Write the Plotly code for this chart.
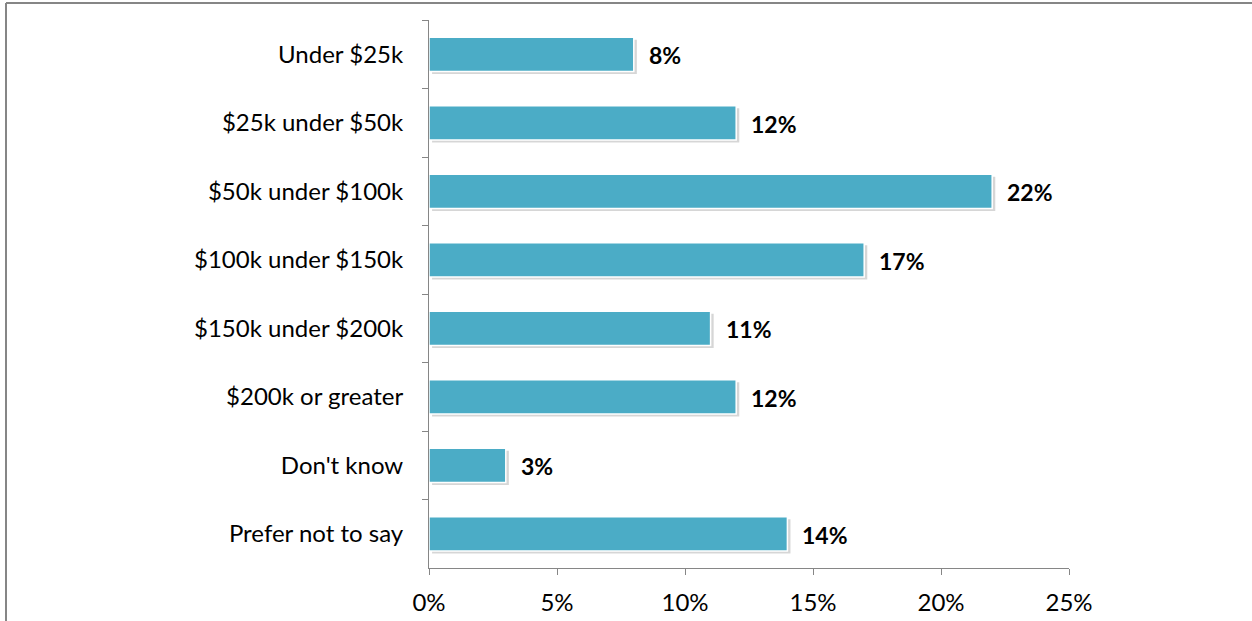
import plotly.graph_objects as go

categories = [
    "Under $25k",
    "$25k under $50k",
    "$50k under $100k",
    "$100k under $150k",
    "$150k under $200k",
    "$200k or greater",
    "Don't know",
    "Prefer not to say",
]
shares = [8, 12, 22, 17, 11, 12, 3, 14]
x_ticks = [0, 5, 10, 15, 20, 25]
x_tick_labels = ["0%", "5%", "10%", "15%", "20%", "25%"]

W, H = 1252, 621
M_L, M_R, M_T, M_B = 429, 183, 20, 53
plot_w = W - M_L - M_R
plot_h = H - M_T - M_B

BAR = "#4BACC6"
AXIS = "#868686"
FONT = "Lato, 'Open Sans', sans-serif"

shadow_dx = 0.12  # percentage units, about 3 px

fig = go.Figure()

# soft drop shadow behind each bar
fig.add_trace(go.Bar(
    y=categories,
    x=shares,
    base=shadow_dx,
    orientation="h",
    width=0.5,
    offset=-0.21,
    marker=dict(color="rgba(0,0,0,0.16)", line=dict(width=0)),
    hoverinfo="skip",
    showlegend=False,
))

fig.add_trace(go.Bar(
    y=categories,
    x=shares,
    orientation="h",
    width=0.5,
    offset=-0.25,
    marker=dict(color=BAR, line=dict(color="white", width=1.5)),
    showlegend=False,
))

for cat, v in zip(categories, shares):
    fig.add_annotation(
        x=v, y=cat, text=f"<b>{v}%</b>", showarrow=False,
        xanchor="left", xshift=13, yshift=-1,
        font=dict(family=FONT, size=23, color="black"),
    )

# chart frame: top and left edges
px_x = lambda p: (p - M_L) / plot_w
px_y = lambda p: 1 - (p - M_T) / plot_h
fig.add_shape(type="line", xref="paper", yref="paper",
              x0=px_x(6), x1=px_x(W + 5), y0=px_y(3), y1=px_y(3),
              line=dict(color=AXIS, width=2))
fig.add_shape(type="line", xref="paper", yref="paper",
              x0=px_x(6), x1=px_x(6), y0=px_y(3), y1=px_y(H + 5),
              line=dict(color=AXIS, width=2))

fig.update_layout(
    width=W, height=H,
    margin=dict(l=M_L, r=M_R, t=M_T, b=M_B, autoexpand=False),
    paper_bgcolor="white", plot_bgcolor="white",
    barmode="overlay",
    font=dict(family=FONT, size=24, color="black"),
    xaxis=dict(
        range=[0, 25], tickvals=x_ticks, ticktext=x_tick_labels,
        automargin=False,
        showgrid=False, zeroline=False,
        showline=True, linecolor=AXIS, linewidth=1,
        ticks="outside", ticklen=6, tickcolor=AXIS,
        ticklabelstandoff=7,
        tickfont=dict(size=24, color="black"),
    ),
    yaxis=dict(
        categoryorder="array", categoryarray=categories,
        autorange="reversed", automargin=False,
        showgrid=False, zeroline=False,
        showline=True, linecolor=AXIS, linewidth=1,
        ticks="outside", ticklen=6, tickcolor=AXIS,
        tickson="boundaries", ticklabelstandoff=20,
        tickfont=dict(size=24, color="black"),
    ),
)

fig.write_html("out.html")
